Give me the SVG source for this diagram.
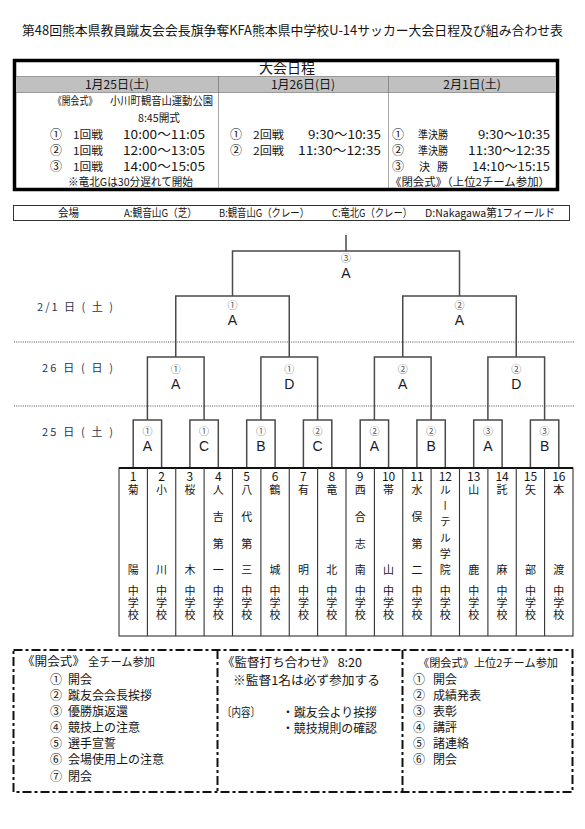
<svg xmlns="http://www.w3.org/2000/svg" width="585" height="829" viewBox="0 0 585 829">
<style>
text{font-family:"Noto Sans CJK JP","Noto Sans",sans-serif;fill:#151515}
.f10{font-size:10px}.f11{font-size:11px}.f12{font-size:12px}.f13{font-size:13px}.f14{font-size:14px}
.c{text-anchor:middle}
.v{writing-mode:vertical-rl;font-size:11px}
.circ{font-size:10px;fill:#555;text-anchor:middle}
.let{font-family:"Liberation Sans",Arial,sans-serif;font-size:14px;text-anchor:middle;fill:#1a1a2a}
.br{stroke:#4a4a4a;stroke-width:1.5;fill:none}
.dot{stroke:#888;stroke-width:1.3;stroke-dasharray:1 1.2;fill:none}
.sdot{stroke:#555;stroke-width:1;stroke-dasharray:1 1;fill:none}
.col{stroke:#333;stroke-width:1.1;fill:none}
.dash{stroke:#111;stroke-width:2;stroke-dasharray:9 3 3 3;fill:none}
.date{font-size:11px;fill:#2a3550}
</style>

<!-- Title -->
<g id="title">
<text class="f13" x="22" y="34.5" textLength="541" lengthAdjust="spacingAndGlyphs">第48回熊本県教員蹴友会会長旗争奪KFA熊本県中学校U-14サッカー大会日程及び組み合わせ表</text>
</g>

<!-- Schedule -->
<g id="schedule">
<rect x="14.5" y="60.5" width="543" height="129" fill="#fff" stroke="#000" stroke-width="3.5"/>
<rect x="16.5" y="76.5" width="539" height="16" fill="#c0c0c0"/>
<line class="sdot" x1="16.5" y1="76.5" x2="555.5" y2="76.5"/>
<line class="sdot" x1="16.5" y1="92.5" x2="555.5" y2="92.5"/>
<line class="sdot" x1="218.5" y1="76.5" x2="218.5" y2="188"/>
<line class="sdot" x1="388.5" y1="76.5" x2="388.5" y2="188"/>
<text class="f14 c" x="287" y="72.5">大会日程</text>
<text class="f12 c" x="117" y="89">1月25日(土)</text>
<text class="f12 c" x="303" y="89">1月26日(日)</text>
<text class="f12 c" x="472" y="89">2月1日(土)</text>

<text class="f11" x="53" y="104.5" textLength="44" lengthAdjust="spacingAndGlyphs">《開会式》</text>
<text class="f11" x="110" y="104.5" textLength="103" lengthAdjust="spacingAndGlyphs">小川町観音山運動公園</text>
<text class="f11" x="138" y="121.5" textLength="42" lengthAdjust="spacingAndGlyphs">8:45開式</text>
<text class="f12" x="50" y="138.5">①</text><text class="f11" x="73" y="138.5" textLength="30" lengthAdjust="spacingAndGlyphs">1回戦</text><text class="f12" x="123" y="138.5" textLength="82" lengthAdjust="spacingAndGlyphs">10:00～11:05</text>
<text class="f12" x="50" y="155">②</text><text class="f11" x="73" y="155" textLength="30" lengthAdjust="spacingAndGlyphs">1回戦</text><text class="f12" x="123" y="155" textLength="82" lengthAdjust="spacingAndGlyphs">12:00～13:05</text>
<text class="f12" x="50" y="171">③</text><text class="f11" x="73" y="171" textLength="30" lengthAdjust="spacingAndGlyphs">1回戦</text><text class="f12" x="123" y="171" textLength="82" lengthAdjust="spacingAndGlyphs">14:00～15:05</text>
<text class="f11" x="68" y="186" textLength="125" lengthAdjust="spacingAndGlyphs">※竜北Gは30分遅れて開始</text>

<text class="f12" x="230" y="138.5">①</text><text class="f11" x="253" y="138.5" textLength="31" lengthAdjust="spacingAndGlyphs">2回戦</text><text class="f12" x="308" y="138.5" textLength="73" lengthAdjust="spacingAndGlyphs">9:30～10:35</text>
<text class="f12" x="230" y="155">②</text><text class="f11" x="253" y="155" textLength="31" lengthAdjust="spacingAndGlyphs">2回戦</text><text class="f12" x="298" y="155" textLength="83" lengthAdjust="spacingAndGlyphs">11:30～12:35</text>

<text class="f12" x="392" y="138.5">①</text><text class="f11" x="418" y="138.5" textLength="30" lengthAdjust="spacingAndGlyphs">準決勝</text><text class="f12" x="478" y="138.5" textLength="72" lengthAdjust="spacingAndGlyphs">9:30～10:35</text>
<text class="f12" x="392" y="155">②</text><text class="f11" x="418" y="155" textLength="30" lengthAdjust="spacingAndGlyphs">準決勝</text><text class="f12" x="468" y="155" textLength="82" lengthAdjust="spacingAndGlyphs">11:30～12:35</text>
<text class="f12" x="392" y="171">③</text><text class="f11" x="419" y="171" textLength="29" lengthAdjust="spacing">決 勝</text><text class="f12" x="472" y="171" textLength="78" lengthAdjust="spacingAndGlyphs">14:10～15:15</text>
<text class="f11" x="390" y="186" textLength="160" lengthAdjust="spacingAndGlyphs">《閉会式》（上位2チーム参加）</text>
</g>

<!-- Venue bar -->
<g id="venues">
<rect x="13.5" y="205.5" width="556" height="15" fill="#fff" stroke="#333" stroke-width="1"/>
<text class="f11" x="58" y="217" textLength="21" lengthAdjust="spacingAndGlyphs">会場</text>
<text class="f11" x="124" y="217" textLength="73" lengthAdjust="spacingAndGlyphs">A:観音山G（芝）</text>
<text class="f11" x="219" y="217" textLength="90" lengthAdjust="spacingAndGlyphs">B:観音山G（クレー）</text>
<text class="f11" x="332" y="217" textLength="80" lengthAdjust="spacingAndGlyphs">C:竜北G（クレー）</text>
<text class="f11" x="425" y="217" textLength="130" lengthAdjust="spacingAndGlyphs">D:Nakagawa第1フィールド</text>
</g>

<!-- Day labels and separators -->
<g id="days">
<text class="date" x="37" y="311" textLength="76">2/1 日 ( 土 )</text>
<text class="date" x="42" y="372" textLength="71">26 日 ( 日 )</text>
<text class="date" x="42" y="436" textLength="71">25 日 ( 土 )</text>
<line class="dot" x1="14" y1="342" x2="575" y2="342"/>
<line class="dot" x1="14" y1="406" x2="575" y2="406"/>
</g>

<!-- Connectors -->
<g id="connectors">
<path class="br" d="M346 235V251M232.5 296V251H459.5V296"/>
<path class="br" d="M175.75 357V296H289.25V357M402.75 357V296H516.25V357"/>
<path class="br" d="M147.4 420V357H204.1V420M260.9 420V357H317.6V420M374.4 420V357H431.1V420M487.9 420V357H544.6V420"/>
<path class="br" d="M133.2 468V420H161.6V468M189.9 468V420H218.3V468M246.7 468V420H275.1V468M303.4 468V420H331.8V468M360.2 468V420H388.6V468M416.9 468V420H445.3V468M473.7 468V420H502.1V468M530.4 468V420H558.8V468"/>
</g>

<!-- Match labels -->
<g id="match-final"><text class="circ" x="346" y="261.5">③</text><text class="let" x="346" y="277.8">A</text></g>
<g id="match-sf1"><text class="circ" x="232.5" y="308.5">①</text><text class="let" x="232.5" y="324.8">A</text></g>
<g id="match-sf2"><text class="circ" x="459.5" y="308.5">②</text><text class="let" x="459.5" y="324.8">A</text></g>
<g id="match-qf1"><text class="circ" x="175.75" y="372.5">①</text><text class="let" x="175.75" y="388.6">A</text></g>
<g id="match-qf2"><text class="circ" x="289.25" y="372.5">①</text><text class="let" x="289.25" y="388.6">D</text></g>
<g id="match-qf3"><text class="circ" x="402.75" y="372.5">②</text><text class="let" x="402.75" y="388.6">A</text></g>
<g id="match-qf4"><text class="circ" x="516.25" y="372.5">②</text><text class="let" x="516.25" y="388.6">D</text></g>
<g id="match-r1-1"><text class="circ" x="147.4" y="434.5">①</text><text class="let" x="147.4" y="450.8">A</text></g>
<g id="match-r1-2"><text class="circ" x="204.1" y="434.5">①</text><text class="let" x="204.1" y="450.8">C</text></g>
<g id="match-r1-3"><text class="circ" x="260.9" y="434.5">①</text><text class="let" x="260.9" y="450.8">B</text></g>
<g id="match-r1-4"><text class="circ" x="317.6" y="434.5">②</text><text class="let" x="317.6" y="450.8">C</text></g>
<g id="match-r1-5"><text class="circ" x="374.4" y="434.5">②</text><text class="let" x="374.4" y="450.8">A</text></g>
<g id="match-r1-6"><text class="circ" x="431.1" y="434.5">②</text><text class="let" x="431.1" y="450.8">B</text></g>
<g id="match-r1-7"><text class="circ" x="487.9" y="434.5">③</text><text class="let" x="487.9" y="450.8">A</text></g>
<g id="match-r1-8"><text class="circ" x="544.6" y="434.5">③</text><text class="let" x="544.6" y="450.8">B</text></g>

<!-- Teams frame -->
<g id="teams-frame">
<rect x="119" y="468" width="454" height="168" fill="#fff" stroke="#333" stroke-width="1.1"/>
<line x1="119" y1="468" x2="573" y2="468" stroke="#111" stroke-width="1.8"/>
<path class="col" d="M147.4 468V636M175.75 468V636M204.1 468V636M232.5 468V636M260.9 468V636M289.25 468V636M317.6 468V636M346 468V636M374.4 468V636M402.75 468V636M431.1 468V636M459.5 468V636M487.9 468V636M516.25 468V636M544.6 468V636"/>
</g>

<g id="team-1"><text class="f12 c" x="133.2" y="480.5">1</text><text class="v" x="133.2" y="484.5" letter-spacing="69">菊陽</text><text class="v" x="133.2" y="585.5" letter-spacing="1">中学校</text></g>
<g id="team-2"><text class="f12 c" x="161.6" y="480.5">2</text><text class="v" x="161.6" y="484.5" letter-spacing="69">小川</text><text class="v" x="161.6" y="585.5" letter-spacing="1">中学校</text></g>
<g id="team-3"><text class="f12 c" x="189.9" y="480.5">3</text><text class="v" x="189.9" y="484.5" letter-spacing="69">桜木</text><text class="v" x="189.9" y="585.5" letter-spacing="1">中学校</text></g>
<g id="team-4"><text class="f12 c" x="218.3" y="480.5">4</text><text class="v" x="218.3" y="484.5" letter-spacing="15.67">人吉第一</text><text class="v" x="218.3" y="585.5" letter-spacing="1">中学校</text></g>
<g id="team-5"><text class="f12 c" x="246.7" y="480.5">5</text><text class="v" x="246.7" y="484.5" letter-spacing="15.67">八代第三</text><text class="v" x="246.7" y="585.5" letter-spacing="1">中学校</text></g>
<g id="team-6"><text class="f12 c" x="275.1" y="480.5">6</text><text class="v" x="275.1" y="484.5" letter-spacing="69">鶴城</text><text class="v" x="275.1" y="585.5" letter-spacing="1">中学校</text></g>
<g id="team-7"><text class="f12 c" x="303.4" y="480.5">7</text><text class="v" x="303.4" y="484.5" letter-spacing="69">有明</text><text class="v" x="303.4" y="585.5" letter-spacing="1">中学校</text></g>
<g id="team-8"><text class="f12 c" x="331.8" y="480.5">8</text><text class="v" x="331.8" y="484.5" letter-spacing="69">竜北</text><text class="v" x="331.8" y="585.5" letter-spacing="1">中学校</text></g>
<g id="team-9"><text class="f12 c" x="360.2" y="480.5">9</text><text class="v" x="360.2" y="484.5" letter-spacing="15.67">西合志南</text><text class="v" x="360.2" y="585.5" letter-spacing="1">中学校</text></g>
<g id="team-10"><text class="f12 c" x="388.6" y="480.5">10</text><text class="v" x="388.6" y="484.5" letter-spacing="69">帯山</text><text class="v" x="388.6" y="585.5" letter-spacing="1">中学校</text></g>
<g id="team-11"><text class="f12 c" x="416.9" y="480.5">11</text><text class="v" x="416.9" y="484.5" letter-spacing="15.67">水俣第二</text><text class="v" x="416.9" y="585.5" letter-spacing="1">中学校</text></g>
<g id="team-12"><text class="f12 c" x="445.3" y="480.5">12</text><text class="v" x="445.3" y="484.5" letter-spacing="5">ルーテル学院</text><text class="v" x="445.3" y="585.5" letter-spacing="1">中学校</text></g>
<g id="team-13"><text class="f12 c" x="473.7" y="480.5">13</text><text class="v" x="473.7" y="484.5" letter-spacing="69">山鹿</text><text class="v" x="473.7" y="585.5" letter-spacing="1">中学校</text></g>
<g id="team-14"><text class="f12 c" x="502.1" y="480.5">14</text><text class="v" x="502.1" y="484.5" letter-spacing="69">託麻</text><text class="v" x="502.1" y="585.5" letter-spacing="1">中学校</text></g>
<g id="team-15"><text class="f12 c" x="530.4" y="480.5">15</text><text class="v" x="530.4" y="484.5" letter-spacing="69">矢部</text><text class="v" x="530.4" y="585.5" letter-spacing="1">中学校</text></g>
<g id="team-16"><text class="f12 c" x="558.8" y="480.5">16</text><text class="v" x="558.8" y="484.5" letter-spacing="69">本渡</text><text class="v" x="558.8" y="585.5" letter-spacing="1">中学校</text></g>

<!-- Bottom info boxes -->
<g id="info-frame">
<rect class="dash" x="13.5" y="650" width="559" height="142"/>
<line class="dash" x1="217.5" y1="650" x2="217.5" y2="792"/>
<line class="dash" x1="402.5" y1="650" x2="402.5" y2="792"/>
</g>
<g id="info-opening">
<text class="f12" x="22" y="666" textLength="63" lengthAdjust="spacingAndGlyphs">《開会式》</text>
<text class="f11" x="88" y="666" textLength="67" lengthAdjust="spacingAndGlyphs">全チーム参加</text>
<text class="f12" x="50" y="683.5">①</text><text class="f12" x="68" y="683.5">開会</text>
<text class="f12" x="50" y="699.5">②</text><text class="f12" x="68" y="699.5" textLength="84" lengthAdjust="spacingAndGlyphs">蹴友会会長挨拶</text>
<text class="f12" x="50" y="715.5">③</text><text class="f12" x="68" y="715.5">優勝旗返還</text>
<text class="f12" x="50" y="731.5">④</text><text class="f12" x="68" y="731.5">競技上の注意</text>
<text class="f12" x="50" y="748">⑤</text><text class="f12" x="68" y="748">選手宣誓</text>
<text class="f12" x="50" y="764">⑥</text><text class="f12" x="68" y="764">会場使用上の注意</text>
<text class="f12" x="50" y="780.5">⑦</text><text class="f12" x="68" y="780.5">閉会</text>
</g>
<g id="info-meeting">
<text class="f12" x="222" y="667" textLength="140" lengthAdjust="spacingAndGlyphs">《監督打ち合わせ》 8:20</text>
<text class="f12" x="233" y="684.5" textLength="147" lengthAdjust="spacingAndGlyphs">※監督1名は必ず参加する</text>
<text class="f12" x="222" y="716.5" textLength="38" lengthAdjust="spacingAndGlyphs">〔内容〕</text>
<text class="f12" x="282" y="716.5" textLength="95" lengthAdjust="spacingAndGlyphs">・蹴友会より挨拶</text>
<text class="f12" x="282" y="732.5" textLength="95" lengthAdjust="spacingAndGlyphs">・競技規則の確認</text>
</g>
<g id="info-closing">
<text class="f11" x="418" y="667" textLength="140" lengthAdjust="spacingAndGlyphs">《閉会式》上位2チーム参加</text>
<text class="f12" x="413" y="683.5">①</text><text class="f12" x="433" y="683.5">開会</text>
<text class="f12" x="413" y="699.5">②</text><text class="f12" x="433" y="699.5">成績発表</text>
<text class="f12" x="413" y="715.5">③</text><text class="f12" x="433" y="715.5">表彰</text>
<text class="f12" x="413" y="731.5">④</text><text class="f12" x="433" y="731.5">講評</text>
<text class="f12" x="413" y="747.5">⑤</text><text class="f12" x="433" y="747.5">諸連絡</text>
<text class="f12" x="413" y="763.5">⑥</text><text class="f12" x="433" y="763.5">閉会</text>
</g>
</svg>
